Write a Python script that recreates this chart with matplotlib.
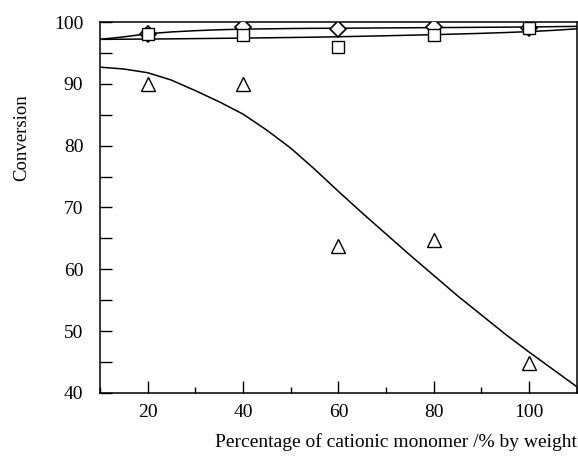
import matplotlib
matplotlib.use("Agg")
import matplotlib.pyplot as plt
from matplotlib.ticker import MultipleLocator

plt.rcParams["font.family"] = ["Liberation Serif", "DejaVu Serif"]

# measured points, % cationic monomer
x_pts = [20, 40, 60, 80, 100]
diamond_pts = [98.0, 99.2, 98.9, 99.2, 99.0]
square_pts = [98.0, 97.9, 95.9, 97.9, 99.0]
triangle_pts = [90.0, 90.0, 63.8, 64.8, 44.8]

# fitted curves
x_fit = [10, 15, 20, 25, 30, 35, 40, 45, 50, 55, 60, 65, 70, 75, 80, 85, 90, 95, 100, 105, 110]
diamond_fit = [97.2, 97.6, 98.1, 98.4, 98.6, 98.75, 98.85, 98.9, 98.95, 98.98, 99.0, 99.02,
               99.05, 99.07, 99.1, 99.12, 99.15, 99.17, 99.2, 99.25, 99.3]
square_fit = [97.2, 97.22, 97.25, 97.28, 97.32, 97.36, 97.4, 97.45, 97.5, 97.55, 97.62, 97.7,
              97.78, 97.87, 97.96, 98.06, 98.17, 98.3, 98.45, 98.65, 98.9]
triangle_fit = [92.7, 92.4, 91.8, 90.6, 88.9, 87.1, 85.1, 82.5, 79.6, 76.2, 72.6, 69.1,
                65.7, 62.3, 59.0, 55.7, 52.6, 49.5, 46.6, 43.8, 41.0]

fig = plt.figure(figsize=(5.78, 4.59), dpi=100)
ax = fig.add_axes([0.173, 0.144, 0.825, 0.808])

lw = 1.1
ax.plot(x_fit, diamond_fit, color="black", lw=lw, zorder=2)
ax.plot(x_fit, square_fit, color="black", lw=lw, zorder=2)
ax.plot(x_fit, triangle_fit, color="black", lw=lw, zorder=2)

ax.plot(x_pts, diamond_pts, ls="none", marker="D", ms=8.5, mfc="white",
        mec="black", mew=1.2, zorder=3)
ax.plot(x_pts, square_pts, ls="none", marker="s", ms=8.5, mfc="white",
        mec="black", mew=1.0, zorder=4)
ax.plot(x_pts, triangle_pts, ls="none", marker="^", ms=10, mfc="white",
        mec="black", mew=1.0, zorder=3)

ax.set_xlim(10, 110)
ax.set_ylim(40, 100)
ax.xaxis.set_major_locator(MultipleLocator(20))
ax.xaxis.set_minor_locator(MultipleLocator(10))
ax.yaxis.set_major_locator(MultipleLocator(10))
ax.yaxis.set_minor_locator(MultipleLocator(5))

ax.tick_params(axis="x", which="major", direction="in", length=8.5, width=1.0,
               labelsize=14, pad=8, top=False)
ax.tick_params(axis="x", which="minor", direction="in", length=4.3, width=1.0,
               top=False)
ax.tick_params(axis="y", which="both", direction="in", length=8.5, width=1.0,
               labelsize=14, pad=12, right=False)
for s in ax.spines.values():
    s.set_linewidth(1.1)

fig.text(0.998, 0.018, "Percentage of cationic monomer /% by weight",
         ha="right", va="bottom", fontsize=14)
fig.text(0.038, 0.70, "Conversion", ha="center", va="center",
         rotation=90, fontsize=13.5)

fig.savefig("out.png", dpi=100)
